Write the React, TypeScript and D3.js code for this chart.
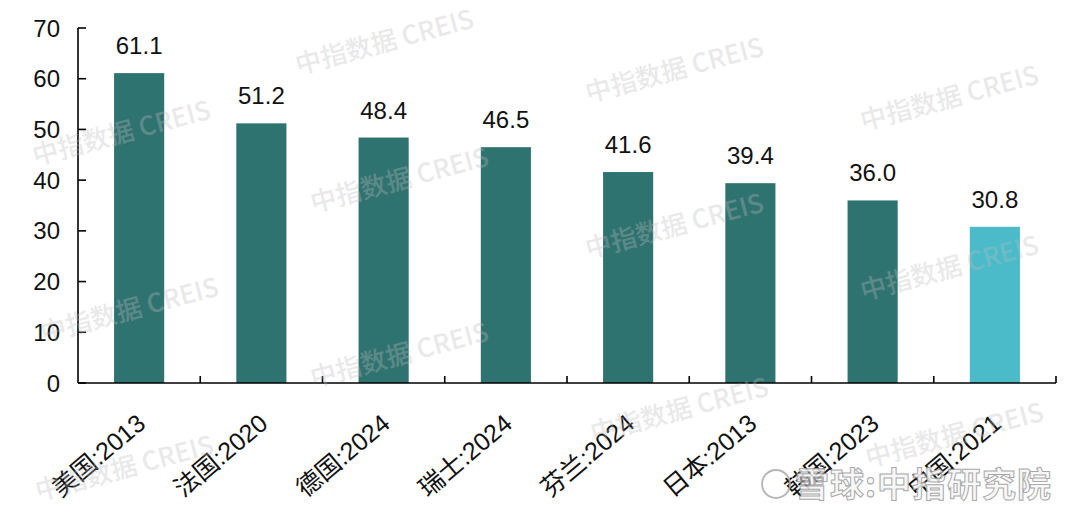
import React from "react";
import * as d3 from "d3";

const categories = ["美国:2013", "法国:2020", "德国:2024", "瑞士:2024", "芬兰:2024", "日本:2013", "韩国:2023", "中国:2021"];
const values = [61.1, 51.2, 48.4, 46.5, 41.6, 39.4, 36.0, 30.8];
const highlighted = ["中国:2021"];
const yTicks = [0, 10, 20, 30, 40, 50, 60, 70];
const watermarkText = "中指数据 CREIS";
const watermarkSpots = [
  [122, 135], [130, 312], [125, 470],
  [385, 44], [400, 182], [400, 357],
  [675, 72], [675, 228], [680, 412],
  [950, 100], [950, 270], [955, 437],
];

const W = 1080;
const H = 513;
const FONT = "'Liberation Sans', Arial, 'Noto Sans CJK SC', sans-serif";

export default function App() {
  const x = d3.scaleBand<string>().domain(categories).range([78, 1056]).paddingInner(0.59).paddingOuter(0.295);
  const y = d3.scaleLinear().domain([0, 70]).range([383, 28]);
  const band = d3.scaleBand<string>().domain(categories).range([78, 1056]).padding(0);
  const boundaries = categories.map((c) => (band(c) as number) + band.bandwidth());

  return (
    <svg width={W} height={H} style={{ position: "absolute", left: 0, top: 0, background: "#fff" }}>
      <rect x={0} y={0} width={W} height={H} fill="#fff" />
      {/* bars */}
      {categories.map((c, i) => (
        <rect
          key={c}
          x={x(c)}
          y={y(values[i])}
          width={x.bandwidth()}
          height={y(0) - y(values[i])}
          fill={highlighted.includes(c) ? "#4BBBCA" : "#2F7370"}
        />
      ))}
      {/* value labels */}
      {categories.map((c, i) => (
        <text
          key={"v" + c}
          x={(x(c) as number) + x.bandwidth() / 2}
          y={y(values[i]) - 19}
          textAnchor="middle"
          fontFamily={FONT}
          fontSize={24}
          fill="#111"
        >
          {values[i].toFixed(1)}
        </text>
      ))}
      {/* y axis */}
      <line x1={78} x2={78} y1={y(70)} y2={y(0)} stroke="#000" strokeWidth={1.6} />
      {yTicks.map((t) => (
        <g key={"yt" + t}>
          <line x1={78} x2={86} y1={y(t)} y2={y(t)} stroke="#000" strokeWidth={1.6} />
          <text x={60} y={y(t)} dy="0.36em" textAnchor="end" fontFamily={FONT} fontSize={24} fill="#111">
            {t}
          </text>
        </g>
      ))}
      {/* x axis */}
      <line x1={78} x2={1056} y1={y(0)} y2={y(0)} stroke="#000" strokeWidth={1.6} />
      {boundaries.map((b, i) => (
        <line key={"xt" + i} x1={b} x2={b} y1={y(0)} y2={y(0) - 7} stroke="#000" strokeWidth={1.6} />
      ))}
      {categories.map((c) => {
        const cx = (x(c) as number) + x.bandwidth() / 2 + 8;
        const cy = 426;
        return (
          <text
            key={"xl" + c}
            x={cx}
            y={cy}
            textAnchor="end"
            transform={`rotate(-40 ${cx} ${cy})`}
            fontFamily={FONT}
            fontSize={25}
            fill="#111"
          >
            {c}
          </text>
        );
      })}
      {/* watermarks */}
      {watermarkSpots.map(([wx, wy], i) => (
        <text
          key={"wm" + i}
          x={wx}
          y={wy}
          textAnchor="middle"
          dominantBaseline="middle"
          transform={`rotate(-15 ${wx} ${wy})`}
          fontFamily="'Noto Sans CJK SC', 'Liberation Sans', sans-serif"
          fontWeight={500}
          fontSize={26}
          fill="#bdbdbd"
          opacity={0.32}
        >
          {watermarkText}
        </text>
      ))}
      <g opacity={0.85}>
        <circle cx={776} cy={484} r={14} fill="none" stroke="#aaa" strokeWidth={2} />
        <text
          x={795}
          y={497}
          fontFamily="'Noto Sans CJK SC', sans-serif"
          fontWeight="bold"
          fontSize={34}
          fill="#f6f6f6"
          stroke="#999"
          strokeWidth={1}
          letterSpacing={1}
        >
          雪球:中指研究院
        </text>
      </g>
    </svg>
  );
}
